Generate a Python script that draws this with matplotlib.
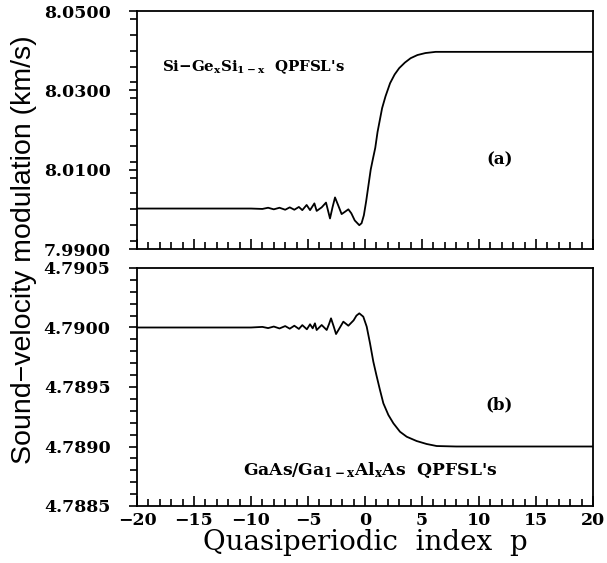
import matplotlib
matplotlib.use("Agg")
import matplotlib.pyplot as plt
from matplotlib.ticker import MultipleLocator, FormatStrFormatter

# ---- data ----
p_top = [-20, -12, -10, -9, -8.5, -8, -7.5, -7, -6.6, -6.2, -5.8, -5.5, -5.12, -4.82, -4.44,
         -4.24, -3.8, -3.42, -3.07, -2.85, -2.63, -2.35, -2.05, -1.75, -1.46, -1.2, -0.9,
         -0.5, -0.3, -0.1, 0.1, 0.3, 0.5, 0.7, 0.9, 1.1, 1.3, 1.5, 1.8, 2.2, 2.6, 3.0, 3.5,
         4.0, 4.6, 5.3, 6.2, 8, 20]
v_top = [8.0002, 8.0002, 8.0002, 8.0001, 8.0004, 8.0000, 8.0004, 7.9999, 8.0005, 7.9999,
         8.0006, 7.9998, 8.0011, 7.9998, 8.0015, 7.9996, 8.0005, 8.0017, 7.9977, 8.0005,
         8.0030, 8.0010, 7.9988, 7.9994, 8.0000, 7.9990, 7.9972, 7.9960, 7.9965, 7.9985,
         8.0020, 8.0060, 8.0100, 8.0128, 8.0155, 8.0195, 8.0225, 8.0255, 8.0285, 8.0318,
         8.0340, 8.0356, 8.0370, 8.0381, 8.0389, 8.0394, 8.0397, 8.0397, 8.0397]

p_bot = [-20, -12, -10, -9, -8.5, -8, -7.5, -7, -6.6, -6.2, -5.8, -5.5, -5.1, -4.82, -4.59,
         -4.39, -4.24, -3.8, -3.36, -3.15, -2.98, -2.75, -2.54, -2.2, -1.9, -1.46, -1.0,
         -0.75, -0.5, -0.15, 0.15, 0.44, 0.73, 1.0, 1.3, 1.61, 2.05, 2.49, 3.07, 3.66,
         4.53, 5.41, 6.29, 8, 20]
v_bot = [4.79000, 4.79000, 4.79000, 4.790005, 4.789995, 4.790008, 4.789992, 4.790012,
         4.789990, 4.790015, 4.789988, 4.790020, 4.789985, 4.790027, 4.789993, 4.790035,
         4.789979, 4.790021, 4.789979, 4.790030, 4.790077, 4.790010, 4.789945, 4.790000,
         4.790049, 4.790015, 4.790060, 4.790100, 4.790119, 4.790091, 4.790007, 4.789867,
         4.789713, 4.789600, 4.789480, 4.789363, 4.789265, 4.789195, 4.789124, 4.789082,
         4.789046, 4.789021, 4.789004, 4.789000, 4.789000]

top_yticks = [7.99, 8.01, 8.03, 8.05]
bot_yticks = [4.7885, 4.7890, 4.7895, 4.7900, 4.7905]
xticks = [-20, -15, -10, -5, 0, 5, 10, 15, 20]

label_top = r"Si$-$Ge$_{\mathbf{x}}$Si$_{\mathbf{1-x}}$  QPFSL's"
label_bot = r"GaAs/Ga$_{\mathbf{1-x}}$Al$_{\mathbf{x}}$As  QPFSL's"

serif = ["DejaVu Serif"]
plt.rcParams["mathtext.fontset"] = "dejavuserif"
plt.rcParams["mathtext.default"] = "bf"

fig = plt.figure(figsize=(6.07, 5.63), dpi=100)
W, H = 607, 563
axL = 137 / W
axW = 456 / W
ax1 = fig.add_axes([axL, 1 - 249 / H, axW, 238 / H])
ax2 = fig.add_axes([axL, 1 - 506 / H, axW, 238 / H])

ax1.plot(p_top, v_top, color="black", lw=1.3)
ax2.plot(p_bot, v_bot, color="black", lw=1.3)

ax1.set_ylim(7.99, 8.05)
ax2.set_ylim(4.7885, 4.7905)
for ax in (ax1, ax2):
    ax.set_xlim(-20, 20)
    ax.xaxis.set_major_locator(MultipleLocator(5))
    ax.xaxis.set_minor_locator(MultipleLocator(1))
    ax.tick_params(axis="x", which="both", direction="in", top=False, width=1.2, pad=4)
    ax.tick_params(axis="x", which="major", length=7)
    ax.tick_params(axis="x", which="minor", length=5)
    ax.tick_params(axis="y", which="both", direction="out", right=False, width=1.2)
    ax.tick_params(axis="y", which="major", length=6, pad=13)
    ax.tick_params(axis="y", which="minor", length=5)
    for s in ax.spines.values():
        s.set_linewidth(1.3)

ax1.set_yticks(top_yticks)
ax1.yaxis.set_minor_locator(MultipleLocator(0.004))
ax1.yaxis.set_major_formatter(FormatStrFormatter("%.4f"))
ax2.set_yticks(bot_yticks)
ax2.yaxis.set_minor_locator(MultipleLocator(0.0001))
ax2.yaxis.set_major_formatter(FormatStrFormatter("%.4f"))
ax1.set_xticks(xticks)
ax1.set_xticklabels([])
ax2.set_xticks(xticks)
ax2.set_xticklabels([str(x).replace("-", "\u2212") for x in xticks])

for ax in (ax1, ax2):
    for lab in ax.get_yticklabels() + ax.get_xticklabels():
        lab.set_family(serif)
        lab.set_fontweight("bold")
        lab.set_fontsize(12.5)

ax1.text(-17.8, 8.0359, label_top, fontsize=10.8, fontweight="bold", family=serif,
         va="center", ha="left")
ax1.text(11.8, 8.0124, "(a)", fontsize=12, fontweight="bold", family=serif,
         va="center", ha="center")
ax2.text(11.8, 4.78935, "(b)", fontsize=12, fontweight="bold", family=serif,
         va="center", ha="center")
ax2.text(-10.7, 4.78880, label_bot, fontsize=12.3, fontweight="bold", family=serif,
         va="center", ha="left")

ax2.set_xlabel("Quasiperiodic  index  p", fontsize=20, family=serif, labelpad=0)
fig.text(0.04, 0.556, "Sound\u2212velocity modulation (km/s)", rotation=90,
         fontsize=20.5, family=["Liberation Sans"], va="center", ha="center")

fig.savefig("out.png", dpi=100, facecolor="white")
